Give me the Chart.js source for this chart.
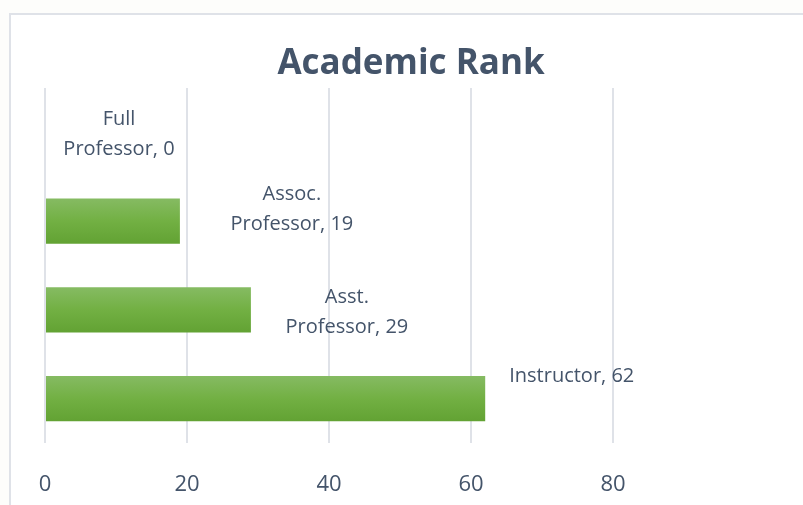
<!DOCTYPE html>
<html>
<head>
<meta charset="utf-8">
<script src="https://cdn.jsdelivr.net/npm/chart.js@4"></script>
<style>
  html,body{margin:0;padding:0;background:#fff;}
  #wrap{width:803px;height:505px;position:relative;}
</style>
</head>
<body>
<div id="wrap"><canvas id="c" width="803" height="505"></canvas></div>
<script>
// Academic Rank — horizontal bar, Excel-style
const TITLE = "Academic Rank";
const categories = ["Full Professor","Assoc. Professor","Asst. Professor","Instructor"];
const counts = [0, 19, 29, 62];
const xTicks = [0, 20, 40, 60, 80];

// manual data-label nudges (label block centre relative to bar end / bar centre), like the Excel file
const labelNudge = [[74,2],[112,-12],[96,2],[24,-22]];

const TEXT = "#44546a";
const FONT = "'Open Sans', Lato, sans-serif";

function wrapLabel(cat, v){
  const i = cat.indexOf(" ");
  if(i < 0) return [cat + ", " + v];
  return [cat.slice(0,i), cat.slice(i+1) + ", " + v];
}

const decor = {
  id:"decor",
  beforeDraw(chart){
    const c = chart.ctx;
    c.save();
    c.fillStyle = "#fdfdfb"; c.fillRect(0,0,chart.width,13);
    c.fillRect(0,0,9,chart.height);
    c.fillStyle = "#fff"; c.fillRect(9,13,chart.width,chart.height);
    c.strokeStyle = "#dfe2e8"; c.lineWidth = 2;
    c.beginPath(); c.moveTo(10, chart.height); c.lineTo(10, 14); c.lineTo(chart.width, 14); c.stroke();
    c.fillStyle = TEXT; c.font = "bold 35px " + FONT;
    c.textAlign = "center"; c.textBaseline = "alphabetic";
    c.fillText(TITLE, 411, 74);
    c.restore();
  },
  afterDatasetsDraw(chart){
    const c = chart.ctx, meta = chart.getDatasetMeta(0);
    c.save();
    c.fillStyle = TEXT; c.font = "20px " + FONT;
    c.textBaseline = "middle";
    meta.data.forEach((bar, i) => {
      const lines = wrapLabel(categories[i], counts[i]);
      const [dx, dy] = labelNudge[i];
      const lh = 30;
      const cy = bar.y + dy - (lines.length - 1) * lh / 2;
      if(lines.length === 1){
        c.textAlign = "left";
        c.fillText(lines[0], bar.x + dx, cy);
      } else {
        c.textAlign = "center";
        lines.forEach((t, k) => c.fillText(t, bar.x + dx, cy + k * lh));
      }
    });
    c.restore();
  }
};

function barFill(ctx){
  const chart = ctx.chart, y = chart.scales.y;
  if(!y || ctx.dataIndex === undefined) return "#70ad47";
  const yc = y.getPixelForValue(ctx.dataIndex), h = 23;
  if(!isFinite(yc)) return "#70ad47";
  const g = chart.ctx.createLinearGradient(0, yc - h, 0, yc + h);
  g.addColorStop(0, "#86bb63");
  g.addColorStop(0.5, "#72b043");
  g.addColorStop(1, "#62a233");
  return g;
}

new Chart(document.getElementById("c"), {
  type: "bar",
  data: {
    labels: categories,
    datasets: [{
      data: counts,
      backgroundColor: barFill,
      borderWidth: 0,
      barPercentage: 0.51,
      categoryPercentage: 1
    }]
  },
  plugins: [decor],
  options: {
    indexAxis: "y",
    responsive: false,
    animation: false,
    layout: { padding: { left: 45, right: 190, top: 88, bottom: 0 } },
    plugins: { legend: { display: false }, title: { display: false }, tooltip: { enabled: false } },
    scales: {
      x: {
        min: 0, max: 80,
        afterBuildTicks: s => { s.ticks = xTicks.map(v => ({ value: v })); },
        afterFit: s => { s.height = 62; },
        grid: { color: "#dfe2e8", lineWidth: 2, drawTicks: false },
        border: { display: false },
        ticks: { color: TEXT, font: { family: FONT, size: 22 }, padding: 29 }
      },
      y: { display: false }
    }
  }
});
</script>
</body>
</html>
